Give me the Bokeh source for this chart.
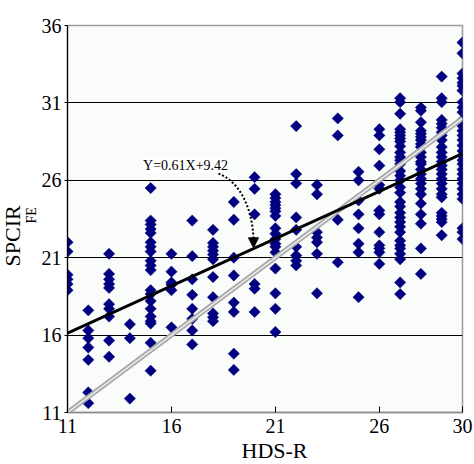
import math
from bokeh.plotting import figure
from bokeh.models import Range1d, FixedTicker, Label, Arrow, NormalHead, Title
from bokeh.embed import file_html
from bokeh.resources import INLINE

# ---- data ----
col11 = [22.0, 21.4, 19.9, 19.6, 19.3, 18.9]
col12 = [17.6, 16.3, 15.8, 15.2, 14.4, 12.3, 11.6]
col13 = [21.25, 19.95, 19.6, 19.3, 19.05, 18.0, 17.7, 17.2, 15.65, 14.6]
col14 = [16.7, 15.8, 11.9]
col15 = [25.5, 23.4, 23.15, 22.85, 22.6, 22.0, 21.7, 21.4, 20.8, 20.5, 20.2, 18.9, 18.65,
         18.2, 17.7, 17.2, 16.9, 16.75, 15.5, 13.7]
col16 = [21.25, 20.1, 19.4, 19.25, 18.9, 16.5]
col17 = [23.4, 21.1, 19.6, 18.6, 17.7, 17.05, 16.3, 15.4]
col18 = [22.8, 21.95, 21.7, 21.45, 21.2, 20.9, 19.75, 18.45, 17.4, 17.15, 16.9]
col19 = [24.6, 23.45, 21.0, 19.85, 18.1, 17.5, 14.8, 13.75]
col20 = [26.2, 25.45, 23.8, 19.3, 19.0, 17.5]
col21 = [25.1, 24.85, 24.6, 24.4, 24.2, 24.0, 23.7, 22.9, 22.55, 22.2, 21.9, 21.7, 21.35,
         20.3, 18.7, 17.7, 16.2]
col22 = [29.5, 26.4, 25.8, 23.6, 22.8, 21.7, 21.15, 20.8, 20.5]
col23 = [25.7, 25.1, 22.65, 22.3, 22.0, 21.25, 18.7]
col24 = [30.0, 28.9, 23.45, 20.7]
col25 = [26.55, 26.0, 24.7, 23.8, 22.9, 21.9, 21.35, 18.45]
col26 = [29.3, 28.9, 28.0, 26.95, 25.7, 25.45, 24.05, 23.8, 22.65, 21.8, 21.6, 21.35, 20.6]
col27 = [31.3, 31.05, 30.3, 29.3, 29.1, 28.9, 28.7, 28.5, 28.2, 27.8, 27.5, 27.3, 27.05,
         26.6, 26.3, 26.0, 25.55, 25.2, 24.6, 24.3, 23.9, 23.6, 23.3, 23.0, 22.65, 22.1,
         21.8, 21.6, 21.25, 20.9, 19.4, 18.65]
col28 = [30.7, 30.5, 29.75, 29.2, 29.0, 28.8, 28.6, 28.35, 28.15, 27.8, 27.5, 27.2, 27.05,
         26.7, 26.4, 26.1, 25.8, 25.45, 25.1, 24.5, 23.8, 23.2, 21.6, 19.95]
col29 = [32.7, 31.3, 31.05, 29.9, 29.65, 29.4, 29.1, 28.9, 28.6, 28.15, 27.8, 27.5, 27.2,
         26.95, 26.7, 26.4, 26.1, 25.8, 25.45, 25.1, 24.9, 23.9, 23.7, 23.5, 23.3, 22.45]
col30 = [34.9, 34.2, 32.9, 32.6, 32.3, 32.1, 31.8, 31.05, 30.7, 30.4, 29.9, 29.5, 29.2,
         28.9, 28.6, 28.25, 27.9, 27.6, 27.3, 27.05, 26.7, 26.4, 26.1, 25.8, 25.45, 25.1,
         24.8, 22.9, 22.65, 22.2]

hds_values = list(range(11, 31))
columns = [col11, col12, col13, col14, col15, col16, col17, col18, col19, col20,
           col21, col22, col23, col24, col25, col26, col27, col28, col29, col30]

slope = 0.61
intercept = 9.42
equation_text = "Y=0.61X+9.42"

x_ticks = [11, 16, 21, 26, 30]
y_ticks = [11, 16, 21, 26, 31, 36]
grid_lines = [16, 21, 26, 31]
x_min, x_max = 11, 30
y_min, y_max = 11, 36

xs, ys = [], []
for h, col in zip(hds_values, columns):
    for v in col:
        xs.append(h)
        ys.append(v)

FONT = "Liberation Serif"

p = figure(width=474, height=464, output_backend="svg", toolbar_location=None,
           x_range=Range1d(x_min, x_max), y_range=Range1d(y_min, y_max),
           min_border_left=67, min_border_right=12, min_border_top=25, min_border_bottom=52)

p.background_fill_color = "#fafcfa"
p.border_fill_color = "white"
p.outline_line_color = "#9a9a9a"
p.outline_line_width = 1.5

p.xgrid.visible = False
p.ygrid.ticker = FixedTicker(ticks=grid_lines)
p.ygrid.grid_line_color = "black"
p.ygrid.grid_line_width = 1.2

p.xaxis.ticker = FixedTicker(ticks=x_ticks)
p.yaxis.ticker = FixedTicker(ticks=y_ticks)
for ax in (p.xaxis, p.yaxis):
    ax.major_label_text_font = FONT
    ax.major_label_text_font_size = "20px"
    ax.major_label_text_color = "black"
    ax.minor_tick_line_color = None
    ax.major_tick_line_color = "black"
p.xaxis.major_tick_in = 6
p.xaxis.major_tick_out = 0
p.xaxis.axis_line_color = "#8a8a8a"
p.xaxis.axis_line_width = 1.5
p.xaxis.major_label_standoff = 6
p.yaxis.major_tick_in = 0
p.yaxis.major_tick_out = 3
p.yaxis.axis_line_color = "black"
p.yaxis.axis_line_width = 1.2
p.yaxis.major_label_standoff = 3

# x-axis title
p.add_layout(Title(text="HDS-R", text_font=FONT, text_font_size="22px", text_font_style="normal",
                   text_color="black", align="left", offset=174, standoff=0), "below")

# y-axis title with subscript, as two side titles
p.add_layout(Title(text="FE", text_font=FONT, text_font_size="14px", text_font_style="normal",
                   text_color="black", align="left", offset=189, standoff=0), "left")
p.add_layout(Title(text="SPCIR", text_font=FONT, text_font_size="22px", text_font_style="normal",
                   text_color="black", align="left", offset=146, standoff=-6), "left")

# scatter
p.scatter(xs, ys, marker="square", size=8, angle=math.pi / 4,
          fill_color="#000080", line_color="#000080", line_width=0.5)

# identity line (double gray)
ident = [x_min, x_max]
p.line(ident, ident, line_color="#a8a8a8", line_width=5)
p.line(ident, ident, line_color="#eeeeee", line_width=1.5)

# regression line
reg_x = [x_min, x_max]
reg_y = [slope * x + intercept for x in reg_x]
p.line(reg_x, reg_y, line_color="black", line_width=3)

# annotation
p.add_layout(Label(x=16.68, y=26.96, text=equation_text, text_font=FONT,
                   text_font_size="14px", text_align="center", text_baseline="middle",
                   text_color="black",
                   background_fill_color="white", border_line_color=None))
tip_x = 19.95
tip_y = slope * tip_x + intercept + 0.05
p.bezier(x0=[18.26], y0=[26.44], x1=[tip_x], y1=[tip_y + 0.5],
         cx0=[19.3], cy0=[25.9], cx1=[19.9], cy1=[24.2],
         line_color="black", line_width=2, line_dash="2 2")
p.add_layout(Arrow(x_start=tip_x - 0.005, y_start=tip_y + 0.7, x_end=tip_x, y_end=tip_y,
                   line_alpha=0, line_width=0,
                   end=NormalHead(size=10, fill_color="black", line_color="black")))

open("out.html", "w").write(file_html(p, INLINE))
